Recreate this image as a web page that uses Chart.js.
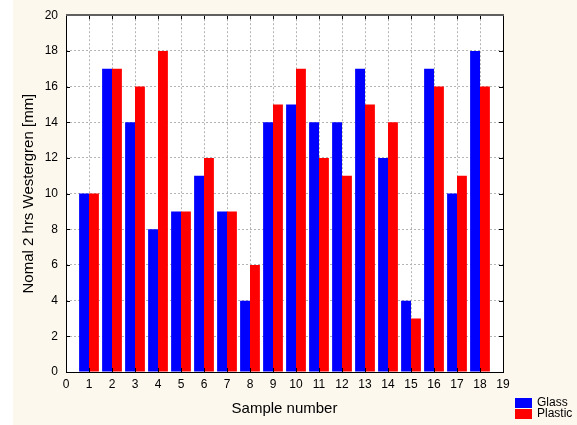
<!DOCTYPE html>
<html lang="en">
<head>
<meta charset="UTF-8"/>
<title>Westergren sample chart</title>
<script src="https://cdn.jsdelivr.net/npm/chart.js@4"></script>
<style>
  * { margin: 0; padding: 0; }
  body { background: #ffffff; width: 577px; height: 425px; overflow: hidden; }
  #wrap { position: relative; width: 577px; height: 425px; }
</style>
</head>
<body>
<div id="wrap"><canvas id="chart" width="577" height="425"></canvas></div>
<script>
// x ticks 0..19, samples sit at 1..18
const xLabels = ['0','1','2','3','4','5','6','7','8','9','10','11','12','13','14','15','16','17','18','19'];
const glass   = [null, 10, 17, 14, 8, 9, 11, 9, 4, 14, 15, 14, 14, 17, 12, 4, 17, 10, 18, null];
const plastic = [null, 10, 17, 16, 18, 9, 12, 9, 6, 15, 17, 12, 11, 15, 14, 3, 16, 11, 16, null];
const seriesNames = ['Glass', 'Plastic'];
const seriesColors = ['#0000ff', '#ff0000'];

const FONT = "'Liberation Sans', Arial, sans-serif";

// cream page, white plot, frame with inward ticks, legend bottom right
const framePlugin = {
  id: 'frame',
  beforeDraw(chart) {
    const { ctx, chartArea: a } = chart;
    ctx.save();
    ctx.fillStyle = '#ffffff';
    ctx.fillRect(0, 0, chart.width, chart.height);
    ctx.fillStyle = '#fdf8ee';
    ctx.fillRect(13, 0, chart.width - 13, chart.height);
    ctx.fillStyle = '#ffffff';
    ctx.fillRect(a.left, a.top, a.right - a.left, a.bottom - a.top);
    ctx.restore();
  },
  afterDraw(chart) {
    const { ctx, chartArea: a, scales } = chart;
    ctx.save();
    ctx.strokeStyle = '#000000';
    ctx.lineWidth = 1;
    ctx.beginPath();
    scales.x.ticks.forEach((t, i) => {
      const px = Math.round(scales.x.getPixelForTick(i)) + 0.5;
      ctx.moveTo(px, a.top); ctx.lineTo(px, a.top + 4);
      ctx.moveTo(px, a.bottom); ctx.lineTo(px, a.bottom - 4);
    });
    scales.y.ticks.forEach((t, i) => {
      const py = Math.round(scales.y.getPixelForTick(i)) + 0.5;
      ctx.moveTo(a.left, py); ctx.lineTo(a.left + 4, py);
      ctx.moveTo(a.right, py); ctx.lineTo(a.right - 4, py);
    });
    ctx.stroke();
    ctx.strokeRect(Math.round(a.left) + 0.5, Math.round(a.top) + 0.5,
                   Math.round(a.right - a.left), Math.round(a.bottom - a.top));
    ctx.strokeStyle = '#606060';
    ctx.lineWidth = 2;
    ctx.beginPath();
    ctx.moveTo(a.left, Math.round(a.top)); ctx.lineTo(a.right + 1, Math.round(a.top));
    ctx.stroke();

    // legend
    ctx.font = '12px ' + FONT;
    ctx.textBaseline = 'middle';
    chart.data.datasets.forEach((ds, i) => {
      const y = 398 + i * 11;
      ctx.fillStyle = ds.backgroundColor;
      ctx.fillRect(515, y, 17, 10);
      ctx.fillStyle = '#000000';
      ctx.fillText(ds.label, 537, y + 5);
    });
    ctx.restore();
  }
};

new Chart(document.getElementById('chart'), {
  type: 'bar',
  data: {
    labels: xLabels,
    datasets: [
      { label: seriesNames[0], data: glass,   backgroundColor: seriesColors[0], borderWidth: 0 },
      { label: seriesNames[1], data: plastic, backgroundColor: seriesColors[1], borderWidth: 0 }
    ]
  },
  options: {
    responsive: false,
    animation: false,
    events: [],
    layout: { padding: { top: 15, right: 74, bottom: 0, left: 0 } },
    datasets: { bar: { categoryPercentage: 0.86, barPercentage: 1.0 } },
    plugins: { legend: { display: false }, tooltip: { enabled: false } },
    scales: {
      x: {
        offset: false,
        grid: { offset: false, color: '#b4b4b4', drawTicks: false, lineWidth: 1 },
        border: { display: false, dash: [2, 2] },
        ticks: { color: '#000000', font: { family: FONT, size: 12 }, padding: 5, maxRotation: 0, autoSkip: false },
        title: { display: true, text: 'Sample number', color: '#000000',
                 font: { family: FONT, size: 15 }, padding: { top: 0, bottom: 7 } },
        afterFit(scale) { scale.height = 53; }
      },
      y: {
        min: 0, max: 20,
        grid: { color: '#b4b4b4', drawTicks: false, lineWidth: 1 },
        border: { display: false, dash: [2, 2] },
        ticks: { stepSize: 2, color: '#000000', font: { family: FONT, size: 12 }, padding: 8 },
        title: { display: true, text: 'Nomal 2 hrs Westergren [mm]', color: '#000000',
                 font: { family: FONT, size: 15 }, padding: { top: 20, bottom: 0 } },
        afterFit(scale) { scale.width = 66; }
      }
    }
  },
  plugins: [framePlugin]
});
</script>
</body>
</html>
